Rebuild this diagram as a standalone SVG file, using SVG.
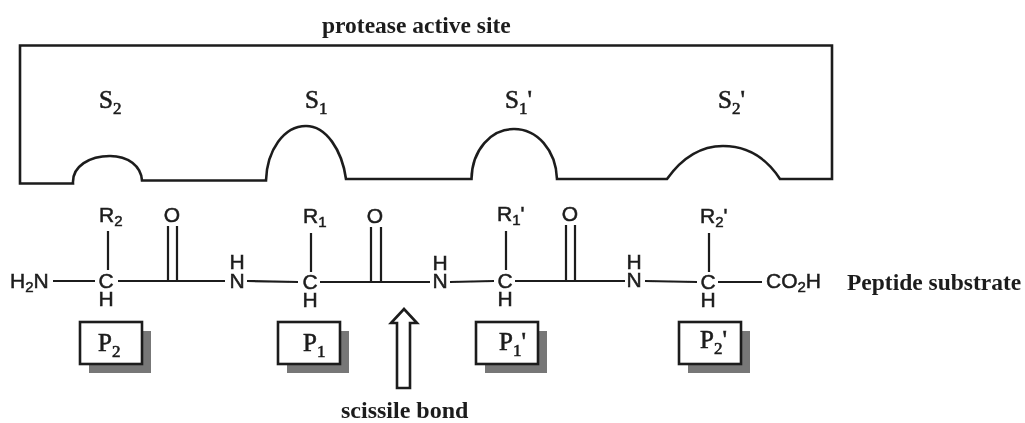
<svg xmlns="http://www.w3.org/2000/svg" width="1025" height="423" viewBox="0 0 1025 423">
<style>
.line{fill:none;stroke:#1c1c1c;stroke-width:2.2}
.out{fill:none;stroke:#1c1c1c;stroke-width:2.6}
.a{font-family:"Liberation Sans",Arial,sans-serif;font-size:21px;fill:#1c1c1c;stroke:#1c1c1c;stroke-width:.5px}
.a .sub{font-size:15px}
.s{font-family:"Liberation Serif","Times New Roman",serif;font-size:23.500px;font-weight:bold;fill:#1c1c1c}
.l{font-family:"Liberation Serif","Times New Roman",serif;font-size:25px;fill:#1c1c1c;stroke:#1c1c1c;stroke-width:.6px}
.l .sub{font-size:17px}
.box{fill:#fff;stroke:#1c1c1c;stroke-width:2.6}
.shadow{fill:#777}
.m{text-anchor:middle}
</style>
<defs><filter id="soft" x="0" y="0" width="100%" height="100%"><feGaussianBlur stdDeviation="0.45"/></filter></defs>
<rect width="1025" height="423" fill="#fff"/>
<g filter="url(#soft)">
<g id="active-site">
<path class="out" d="M20 183.500V45.500H832V179H780C765 156 745 146 723 146C700 146 682 158 667 179H557C556 150 537 129 514 129C491 129 472 150 471.500 179H346C342 150 326 126 306 126C284 126 267 150 266 180.500H142C141 166 128 156 110 156C90 156 72 166 73 183.500Z"/>
<text class="s" x="322" y="33">protease active site</text>
</g>
<g id="S2"><text class="l" x="99" y="108">S<tspan class="sub" dy="6">2</tspan></text></g>
<g id="S1"><text class="l" x="305" y="108">S<tspan class="sub" dy="6">1</tspan></text></g>
<g id="S1p"><text class="l" x="505" y="108">S<tspan class="sub" dy="6">1</tspan><tspan dy="-6">'</tspan></text></g>
<g id="S2p"><text class="l" x="718" y="108">S<tspan class="sub" dy="6">2</tspan><tspan dy="-6">'</tspan></text></g>
<g id="connectors">
<path class="line" d="M53 281H95M108 231V270M118 281H225M168 226V281M177 226V281M247 281L298 282M311 233V272M320 282H430M371 227V282M381 227V282M450 282L494 281M506 231V270M515 281H625M566 225V281M575 225V281M645 281L697 282M709 233V272M718 282H762"/>
</g>
<g id="residue-P2">
<text class="a" x="10" y="288">H<tspan class="sub" dy="4">2</tspan><tspan dy="-4">N</tspan></text>
<text class="a m" x="106" y="288">C</text><text class="a m" x="106" y="306">H</text>
<text class="a" x="99" y="222">R<tspan class="sub" dy="4">2</tspan></text>
<text class="a m" x="172" y="222">O</text>
<text class="a m" x="237" y="269">H</text><text class="a m" x="237" y="288">N</text>
<rect class="shadow" x="89" y="331" width="62" height="42"/><rect class="box" x="80" y="322" width="62" height="42"/>
<text class="l" x="98" y="351">P<tspan class="sub" dy="6">2</tspan></text>
</g>
<g id="residue-P1">
<text class="a m" x="310" y="289">C</text><text class="a m" x="310" y="307">H</text>
<text class="a" x="303" y="223">R<tspan class="sub" dy="4">1</tspan></text>
<text class="a m" x="375" y="223">O</text>
<text class="a m" x="440" y="270">H</text><text class="a m" x="440" y="288">N</text>
<rect class="shadow" x="287" y="331" width="62" height="42"/><rect class="box" x="278" y="322" width="62" height="42"/>
<text class="l" x="303" y="351">P<tspan class="sub" dy="6">1</tspan></text>
</g>
<g id="residue-P1p">
<text class="a m" x="505" y="288">C</text><text class="a m" x="505" y="306">H</text>
<text class="a" x="497" y="221">R<tspan class="sub" dy="4">1</tspan><tspan dy="-4">'</tspan></text>
<text class="a m" x="570" y="221">O</text>
<text class="a m" x="634" y="269">H</text><text class="a m" x="634" y="287">N</text>
<rect class="shadow" x="485" y="331" width="62" height="42"/><rect class="box" x="476" y="322" width="62" height="42"/>
<text class="l" x="499" y="350">P<tspan class="sub" dy="6">1</tspan><tspan dy="-6">'</tspan></text>
</g>
<g id="residue-P2p">
<text class="a m" x="708" y="289">C</text><text class="a m" x="708" y="307">H</text>
<text class="a" x="700" y="223">R<tspan class="sub" dy="4">2</tspan><tspan dy="-4">'</tspan></text>
<text class="a" x="766" y="288">CO<tspan class="sub" dy="4">2</tspan><tspan dy="-4">H</tspan></text>
<rect class="shadow" x="688" y="331" width="62" height="42"/><rect class="box" x="679" y="322" width="62" height="42"/>
<text class="l" x="700" y="348">P<tspan class="sub" dy="6">2</tspan><tspan dy="-6">'</tspan></text>
</g>
<g id="scissile-bond">
<path class="out" fill="#fff" d="M404 309L417 323H410V388H397V323H391Z"/>
<text class="s" x="341" y="418" style="font-size:24px">scissile bond</text>
</g>
<g id="substrate-label"><text class="s" x="847" y="290">Peptide substrate</text></g>
</g>
</svg>
